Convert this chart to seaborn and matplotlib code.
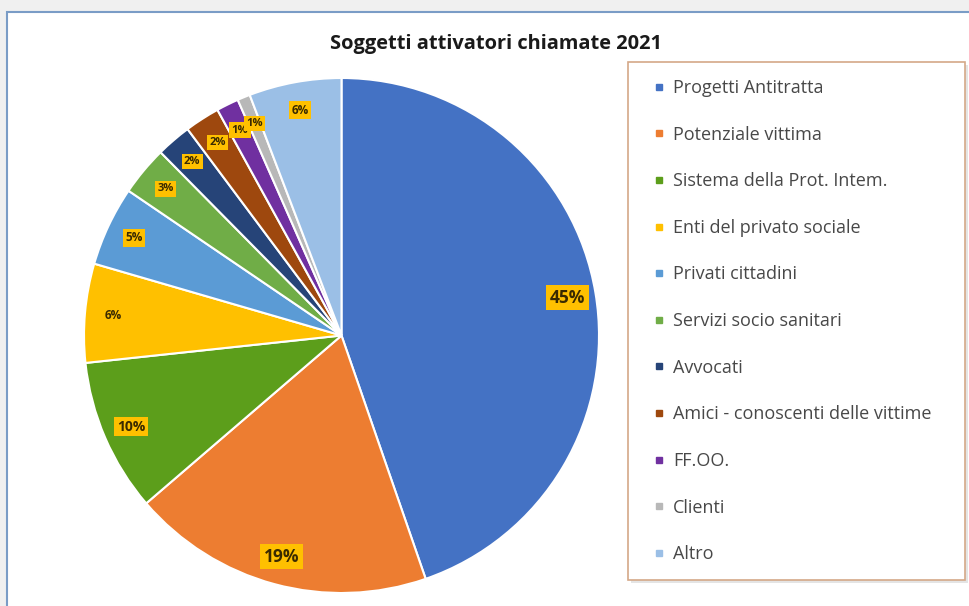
import matplotlib
matplotlib.use("Agg")
import matplotlib.pyplot as plt
from matplotlib.patches import Rectangle
from matplotlib.lines import Line2D
import seaborn as sns

sns.set_theme(style="white")
plt.rcParams['font.family'] = ['Open Sans', 'DejaVu Sans']

categories = ["Progetti Antitratta", "Potenziale vittima", "Sistema della Prot. Intem.",
              "Enti del privato sociale", "Privati cittadini", "Servizi socio sanitari",
              "Avvocati", "Amici - conoscenti delle vittime", "FF.OO.", "Clienti", "Altro"]
values = [44.7, 19.0, 9.6, 6.2, 5.0, 3.1, 2.2, 2.2, 1.4, 0.8, 5.8]
colors = ["#4472C4", "#ED7D31", "#5C9E1B", "#FFC000", "#5B9BD5", "#70AD47",
          "#264478", "#9E480E", "#7030A0", "#B8B8B8", "#9BBFE6"]
title = "Soggetti attivatori chiamate 2021"

W, H = 970, 606
fig = plt.figure(figsize=(W / 100, H / 100), dpi=100)
fig.patch.set_facecolor("#F0F0F0")

# chart area
fig.patches.append(Rectangle((7 / W, -0.01), 1.0, 1 - 12 / H + 0.01, transform=fig.transFigure,
                             facecolor="white", edgecolor="#7A9CC6", linewidth=1.5, zorder=-10))

ax = fig.add_axes([84 / W, 13 / H, 515 / W, 515 / H])
ax.set_zorder(2)
wedges, texts, autotexts = ax.pie(
    values, colors=colors, startangle=90, counterclock=False, radius=1.0,
    autopct=lambda p: f"{p:.0f}%", pctdistance=0.89,
    wedgeprops=dict(edgecolor="white", linewidth=1.5),
)
for v, t in zip(values, autotexts):
    if v > 15:
        fs = 12.5
    elif v > 8:
        fs = 10
    elif v > 4:
        fs = 8.5
    else:
        fs = 8
    t.set_fontsize(fs)
    t.set_fontweight("bold")
    t.set_color("#3A2A00")
    t.set_bbox(dict(boxstyle="square,pad=0.2", facecolor="#FFC000", edgecolor="none"))
ax.set_xlim(-1, 1)
ax.set_ylim(-1, 1)
ax.set_aspect("equal")
ax.axis("off")

fig.text(0.511, 1 - 44 / H, title, ha="center", va="center", fontsize=14.4, fontweight="bold",
         color="#1A1A1A")

# legend box
fig.patches.append(Rectangle((631 / W, 23 / H), 337 / W, 518 / H, transform=fig.transFigure,
                             facecolor="#E4E4E4", edgecolor="none", zorder=-5))
fig.patches.append(Rectangle((628 / W, 26 / H), 337 / W, 518 / H, transform=fig.transFigure,
                             facecolor="white", edgecolor="#D4A888", linewidth=1.2, zorder=-4))
handles = [Line2D([], [], marker="s", linestyle="none", markersize=5, color=c) for c in colors]
leg = fig.legend(handles, categories, loc="upper left", bbox_to_anchor=(654 / W, 1 - 79 / H),
                 frameon=False, fontsize=13, labelspacing=1.585, handlelength=0.55,
                 handletextpad=0.5, borderaxespad=0, borderpad=0)
for t in leg.get_texts():
    t.set_color("#484848")

fig.savefig("out.png", dpi=100, facecolor=fig.get_facecolor())
